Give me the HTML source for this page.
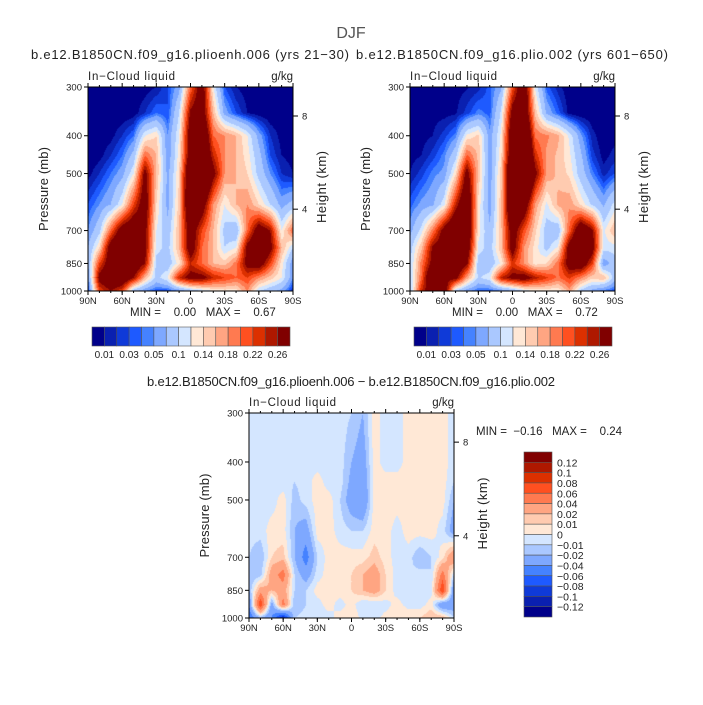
<!DOCTYPE html>
<html><head><meta charset="utf-8"><style>
body{margin:0;background:#fff;width:703px;height:705px;overflow:hidden;position:relative;font-family:"Liberation Sans",sans-serif}
canvas{position:absolute}
svg{position:absolute;left:0;top:0}
text{font-family:"Liberation Sans",sans-serif;fill:#222;white-space:pre}
</style></head><body>
<canvas id="cA" width="205" height="204" style="left:88px;top:87px"></canvas>
<canvas id="cB" width="205" height="204" style="left:410px;top:87px"></canvas>
<canvas id="cD" width="205" height="205" style="left:249px;top:413px"></canvas>
<svg id="s" width="703" height="705"></svg>
<script>
const lats=[90,80,70,60,50,40,30,20,10,0,-10,-20,-30,-40,-50,-60,-70,-80,-90];
const plevs=[300,350,400,450,500,600,700,775,850,925,1000];
const fieldA=[
[0,0,0,0,0,0.003,0.01,0.03,0.06,0.2,0.3,0.12,0.03,0.01,0.003,0,0,0,0],
[0,0,0,0,0.003,0.02,0.04,0.03,0.1,0.27,0.3,0.16,0.06,0.03,0.01,0.003,0,0,0],
[0,0,0.005,0.02,0.04,0.12,0.14,0.05,0.12,0.3,0.35,0.2,0.18,0.16,0.12,0.06,0.02,0.005,0],
[0,0.005,0.02,0.04,0.08,0.2,0.16,0.05,0.13,0.3,0.35,0.24,0.18,0.16,0.13,0.08,0.03,0.01,0.005],
[0.005,0.02,0.04,0.06,0.12,0.28,0.16,0.06,0.14,0.35,0.4,0.28,0.18,0.16,0.14,0.09,0.05,0.02,0.01],
[0.03,0.05,0.07,0.12,0.22,0.3,0.14,0.06,0.15,0.35,0.3,0.18,0.12,0.16,0.18,0.14,0.1,0.06,0.08],
[0.05,0.09,0.2,0.3,0.32,0.28,0.12,0.08,0.16,0.3,0.22,0.16,0.09,0.07,0.2,0.3,0.26,0.12,0.2],
[0.07,0.14,0.3,0.35,0.34,0.28,0.11,0.09,0.16,0.3,0.2,0.16,0.1,0.12,0.28,0.34,0.28,0.16,0.1],
[0.07,0.22,0.3,0.35,0.32,0.26,0.09,0.08,0.13,0.24,0.2,0.16,0.15,0.19,0.28,0.3,0.22,0.13,0.05],
[0.05,0.28,0.32,0.32,0.26,0.16,0.09,0.12,0.24,0.28,0.28,0.24,0.22,0.2,0.22,0.18,0.15,0.12,0.05],
[0.02,0.22,0.26,0.22,0.08,0.05,0.03,0.03,0.05,0.08,0.1,0.12,0.13,0.13,0.18,0.1,0.08,0.06,0.02]];
const diff=[
[-0.005,-0.005,-0.005,-0.005,-0.005,-0.005,-0.005,-0.005,-0.005,-0.01,-0.02,0.005,-0.005,-0.005,0.005,0.005,0.005,0.005,-0.005],
[-0.005,-0.005,-0.005,-0.005,-0.005,-0.005,-0.005,-0.005,-0.005,-0.015,-0.025,0.005,-0.005,-0.005,0.005,0.005,0.005,0.005,-0.005],
[-0.005,-0.005,-0.005,-0.005,-0.005,-0.005,-0.005,-0.005,-0.005,-0.02,-0.03,0.005,-0.005,-0.005,0.005,0.005,0.005,0.005,-0.005],
[-0.005,-0.005,-0.005,-0.005,-0.01,-0.005,0.005,-0.005,-0.005,-0.025,-0.035,0.005,0.005,0.005,0.005,0.005,0.005,0.005,-0.01],
[-0.005,-0.005,-0.005,0.005,-0.015,-0.005,0.005,0.005,-0.01,-0.03,-0.04,0.005,0.005,0.005,0.005,0.005,0.005,0.005,-0.02],
[-0.005,-0.005,0.005,0.005,-0.02,-0.03,0.005,0.005,-0.005,-0.01,-0.01,0.005,0.005,-0.005,0.005,0.005,0.005,-0.005,-0.03],
[-0.01,-0.02,0.01,0.015,-0.02,-0.05,-0.01,0.005,0.005,0.005,0.005,0.015,0.005,-0.005,-0.005,-0.02,-0.01,0.005,0.04],
[-0.02,-0.015,0.03,0.05,-0.01,-0.03,-0.005,0.005,0.005,0.01,0.02,0.03,0.01,-0.005,-0.01,-0.005,-0.01,0.05,-0.01],
[-0.02,0.03,0.02,0.03,-0.01,-0.01,0.005,0.005,0.005,0.01,0.02,0.03,0.01,-0.005,-0.01,-0.01,-0.005,0.08,-0.04],
[-0.04,0.08,-0.03,0.05,-0.02,-0.01,-0.005,0.005,-0.005,0.005,-0.01,-0.01,-0.005,0.005,-0.005,-0.005,0.005,-0.04,-0.03],
[-0.06,-0.02,-0.04,-0.1,-0.01,-0.005,-0.005,-0.005,0.005,0.01,-0.005,-0.005,0.005,0.01,0.01,0.01,0.02,0.02,-0.01]];
const fieldB=fieldA.map((r,i)=>r.map((v,j)=>Math.max(0,v-diff[i][j])));
const levelsAbs=[0.01,0.02,0.03,0.04,0.05,0.07,0.1,0.12,0.14,0.16,0.18,0.2,0.22,0.24,0.26];
const labelsAbs=["0.01","0.03","0.05","0.1","0.14","0.18","0.22","0.26"];
const levelsDiff=[-0.12,-0.1,-0.08,-0.06,-0.04,-0.02,-0.01,0,0.01,0.02,0.04,0.06,0.08,0.1,0.12];
const labelsDiff=["0.12","0.1","0.08","0.06","0.04","0.02","0.01","0","\u22120.01","\u22120.02","\u22120.04","\u22120.06","\u22120.08","\u22120.1","\u22120.12"];
const latTicks=["90N","60N","30N","0","30S","60S","90S"];
const pTicks=[300,400,500,700,850,1000];
const hTicks=[8,4];
const hTickP=[356,617];
const colors=["#00008a","#0a20b0","#0f3ad8","#1e5aff","#4582ff","#7ea8ff","#aac8ff","#d4e6ff","#ffe8d6","#ffcbb0","#ffa582","#ff7a50","#ff5020","#dc3000","#ae1800","#800000"];

const S=document.getElementById('s');const NS="http://www.w3.org/2000/svg";
function el(t,a,txt){const e=document.createElementNS(NS,t);for(const k in a)e.setAttribute(k,a[k]);if(txt!==undefined)e.textContent=txt;S.appendChild(e);return e;}
function lvIdx(v,lev){let i=0;while(i<lev.length&&v>=lev[i])i++;return i;}
function hex(c){return[parseInt(c.substr(1,2),16),parseInt(c.substr(3,2),16),parseInt(c.substr(5,2),16)];}
const rgb=colors.map(hex);
const LP0=Math.log(300),LP1=Math.log(1000);
function yOf(p,oy,h){return oy+(Math.log(p)-LP0)/(LP1-LP0)*h;}
function fill(id,field,lev){
 const c=document.getElementById(id),ctx=c.getContext('2d'),W=c.width,H=c.height;
 const img=ctx.createImageData(W,H);const lp=plevs.map(Math.log);
 for(let y=0;y<H;y++){const L=LP0+(y+0.5)/H*(LP1-LP0);let r=0;while(r<lp.length-2&&L>lp[r+1])r++;const fy=Math.min(1,Math.max(0,(L-lp[r])/(lp[r+1]-lp[r])));
  for(let x=0;x<W;x++){const gx=(x+0.5)/W*(lats.length-1);const j=Math.min(lats.length-2,Math.floor(gx));const fx=gx-j;
   const v=(field[r][j]*(1-fx)+field[r][j+1]*fx)*(1-fy)+(field[r+1][j]*(1-fx)+field[r+1][j+1]*fx)*fy;
   const col=rgb[lvIdx(v,lev)];const k=(y*W+x)*4;img.data[k]=col[0];img.data[k+1]=col[1];img.data[k+2]=col[2];img.data[k+3]=255;}}
 ctx.putImageData(img,0,0);}
fill('cA',fieldA,levelsAbs);fill('cB',fieldB,levelsAbs);fill('cD',diff,levelsDiff);

function axes(ox,oy,w,h,tag){
 el('rect',{x:ox,y:oy,width:w,height:h,fill:'none',stroke:'#000','stroke-width':1,});
 latTicks.forEach((t,i)=>{const x=ox+i*w/6;
  el('line',{x1:x,y1:oy+h,x2:x,y2:oy+h+4,stroke:'#000',});
  el('text',{x:x,y:oy+h+13,'font-size':9.5,'text-anchor':'middle',},t);});
 for(let i=0;i<=18;i++){const x=ox+i*w/18;
  el('line',{x1:x,y1:oy,x2:x,y2:oy-(i%3==0?4:2),stroke:'#000',});
  el('line',{x1:x,y1:oy+h,x2:x,y2:oy+h+2,stroke:'#000',});}
 pTicks.forEach(p=>{const y=yOf(p,oy,h);
  el('line',{x1:ox-4,y1:y,x2:ox,y2:y,stroke:'#000',});
  el('text',{x:ox-6,y:y+3.5,'font-size':9.5,'text-anchor':'end',},p);});
 hTicks.forEach((t,i)=>{const y=yOf(hTickP[i],oy,h);
  el('line',{x1:ox+w,y1:y,x2:ox+w+5,y2:y,stroke:'#000',});
  el('text',{x:ox+w+9,y:y+3.5,'font-size':9.5,},t);});
 el('text',{x:0,y:0,'font-size':13,'text-anchor':'middle',textLength:84,transform:`translate(${ox-40},${oy+h/2}) rotate(-90)`,},'Pressure (mb)');
 el('text',{x:0,y:0,'font-size':13,'text-anchor':'middle',textLength:72,transform:`translate(${ox+w+33},${oy+h/2-2}) rotate(-90)`,},'Height (km)');
 el('text',{x:ox,y:oy-7,'font-size':11.5,textLength:87,},'In\u2212Cloud liquid');
 el('text',{x:ox+w,y:oy-7,'font-size':11.5,'text-anchor':'end',},'g/kg');
}
axes(88,87,205,204,'left');axes(410,87,205,204,'right');axes(249,413,205,205,'diff');

el('text',{x:351,y:38,'font-size':16,'text-anchor':'middle',style:'fill:#555',},'DJF');
el('text',{x:31,y:59,'font-size':13,textLength:318,},'b.e12.B1850CN.f09_g16.plioenh.006 (yrs 21\u221230)');
el('text',{x:356,y:59,'font-size':13,textLength:312,},'b.e12.B1850CN.f09_g16.plio.002 (yrs 601\u2212650)');
el('text',{x:147,y:386,'font-size':13,textLength:408,},'b.e12.B1850CN.f09_g16.plioenh.006 \u2212 b.e12.B1850CN.f09_g16.plio.002');
el('text',{x:130,y:316,'font-size':11.5,},'MIN =    0.00   MAX =    0.67');
el('text',{x:452,y:316,'font-size':11.5,},'MIN =    0.00   MAX =    0.72');
el('text',{x:476,y:435,'font-size':11.5,},'MIN =  \u22120.16   MAX =    0.24');

function hbar(ox,tag){const y=327,w=198/16;
 colors.forEach((c,i)=>el('rect',{x:ox+i*w,y:y,width:w,height:19,fill:c,stroke:'#555','stroke-width':0.6,}));
 labelsAbs.forEach((t,i)=>el('text',{x:ox+(1+2*i)*w,y:358,'font-size':10,'text-anchor':'middle',},t));}
hbar(92,'left');hbar(414,'right');
const vb=165/16;
colors.slice().reverse().forEach((c,i)=>el('rect',{x:524,y:452+i*vb,width:28,height:vb,fill:c,stroke:'#555','stroke-width':0.6,}));
labelsDiff.forEach((t,i)=>el('text',{x:557,y:452+(i+1)*vb+4,'font-size':10.5,},t));
</script>
</body></html>
